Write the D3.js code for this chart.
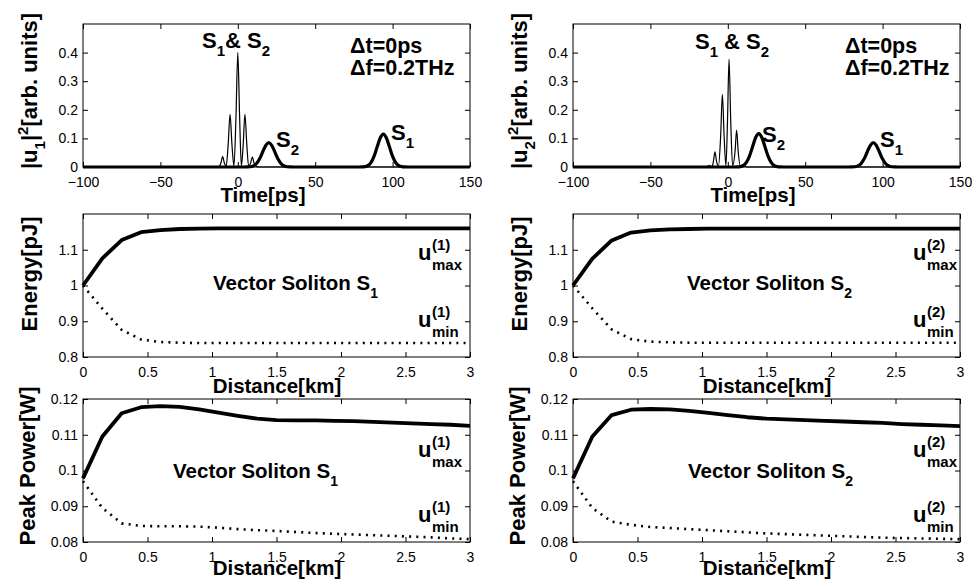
<!DOCTYPE html>
<html><head><meta charset="utf-8">
<script src="https://cdn.jsdelivr.net/npm/d3@7"></script>
<style>
body{margin:0;background:#fff}
svg{display:block}
text{font-family:"Liberation Sans",Arial,Helvetica,sans-serif;fill:#000}
</style>
</head><body>
<svg id="c" width="972" height="581"></svg>
<script>
// ---------- tick labels ----------
const timeTicks = [-100, -50, 0, 50, 100, 150];
const distTicks = [0, 0.5, 1, 1.5, 2, 2.5, 3];
const ampTicks = [0, 0.1, 0.2, 0.3, 0.4];
const energyTicks = [0.8, 0.9, 1, 1.1];
const powerTicks = [0.08, 0.09, 0.1, 0.11, 0.12];

// ---------- top row: input (thin) and output (thick) intensity profiles ----------
const tIn1 = [-100, -14, -12, -11, -9.8, -8.6, -7.5, -6.2, -5, -3.8, -2.5, -1.2, 0, 1.2, 2.3, 3.5, 4.6, 5.8, 7, 8.2, 9.4, 10.6, 12, 14, 150];
const uIn1 = [0, 0, 0.002, 0.012, 0.036, 0.012, 0.003, 0.08, 0.184, 0.08, 0.004, 0.17, 0.40, 0.17, 0.004, 0.08, 0.184, 0.08, 0.003, 0.012, 0.035, 0.012, 0.002, 0, 0];
const tIn2 = [-100, -15, -13, -12, -11, -10, -9.3, -8.3, -7.3, -6, -4.6, -3.5, -2.4, -1.2, -0.2, 0.8, 1.9, 3.1, 4.7, 5.7, 6.7, 8, 10, 12, 150];
const uIn2 = [0, 0, 0.002, 0.006, 0.002, 0.003, 0.02, 0.053, 0.02, 0.004, 0.11, 0.254, 0.11, 0.004, 0.16, 0.377, 0.16, 0.004, 0.055, 0.129, 0.055, 0.004, 0.008, 0, 0];
const tOut = [-100, 4, 6, 8, 10, 12, 14, 16, 18, 20, 22, 24, 26, 28, 30, 32, 34, 36,
              78, 80, 82, 84, 86, 88, 90, 92, 94, 96, 98, 100, 102, 104, 106, 108, 110, 150];
const uOut1 = [0, 0, 0.0002, 0.0009, 0.0037, 0.0115, 0.0276, 0.0516, 0.075, 0.085, 0.075, 0.0516, 0.0276, 0.0115, 0.0037, 0.0009, 0.0002, 0,
               0, 0.0003, 0.0013, 0.005, 0.0156, 0.0373, 0.0697, 0.1015, 0.115, 0.1015, 0.0697, 0.0373, 0.0156, 0.005, 0.0013, 0.0003, 0, 0];
const uOut2 = [0, 0, 0.0003, 0.0013, 0.005, 0.0158, 0.0379, 0.0709, 0.1033, 0.117, 0.1033, 0.0709, 0.0379, 0.0158, 0.005, 0.0013, 0.0003, 0,
               0, 0.0002, 0.0009, 0.0037, 0.0115, 0.0276, 0.0516, 0.075, 0.085, 0.075, 0.0516, 0.0276, 0.0115, 0.0037, 0.0009, 0.0002, 0, 0];

// ---------- energy and peak power vs distance ----------
const distance = [0, 0.15, 0.3, 0.45, 0.6, 0.75, 0.9, 1.05, 1.2, 1.35, 1.5, 1.65, 1.8, 1.95, 2.1, 2.25, 2.4, 2.55, 2.7, 2.85, 3.0];
const energyMax1 = [1.000, 1.076, 1.127, 1.149, 1.155, 1.158, 1.159, 1.160, 1.160, 1.160, 1.160, 1.160, 1.160, 1.160, 1.160, 1.160, 1.160, 1.160, 1.160, 1.160, 1.160];
const energyMin1 = [1.000, 0.935, 0.876, 0.849, 0.842, 0.840, 0.839, 0.839, 0.839, 0.839, 0.839, 0.839, 0.839, 0.839, 0.839, 0.839, 0.839, 0.839, 0.839, 0.839, 0.839];
const energyMax2 = [1.000, 1.075, 1.126, 1.148, 1.154, 1.157, 1.158, 1.159, 1.159, 1.159, 1.159, 1.159, 1.159, 1.159, 1.159, 1.159, 1.159, 1.159, 1.159, 1.159, 1.159];
const energyMin2 = [1.000, 0.936, 0.877, 0.850, 0.843, 0.841, 0.840, 0.840, 0.840, 0.840, 0.840, 0.840, 0.840, 0.840, 0.840, 0.840, 0.840, 0.840, 0.840, 0.840, 0.840];
const powerMax1 = [0.0978, 0.1095, 0.1160, 0.1177, 0.1180, 0.1178, 0.1171, 0.1162, 0.1153, 0.1145, 0.1141, 0.1140, 0.1140, 0.1139, 0.1138, 0.1136, 0.1134, 0.1132, 0.1130, 0.1128, 0.1125];
const powerMin1 = [0.0970, 0.0895, 0.0852, 0.0845, 0.0844, 0.0844, 0.0843, 0.0840, 0.0836, 0.0833, 0.0831, 0.0828, 0.0825, 0.0823, 0.0821, 0.0819, 0.0817, 0.0815, 0.0813, 0.0810, 0.0808];
const powerMax2 = [0.0978, 0.1095, 0.1155, 0.1170, 0.1172, 0.1171, 0.1167, 0.1161, 0.1155, 0.1149, 0.1145, 0.1143, 0.1141, 0.1139, 0.1137, 0.1135, 0.1133, 0.1130, 0.1128, 0.1126, 0.1124];
const powerMin2 = [0.0970, 0.0895, 0.0857, 0.0848, 0.0842, 0.0839, 0.0836, 0.0833, 0.0830, 0.0827, 0.0824, 0.0822, 0.0820, 0.0818, 0.0816, 0.0814, 0.0812, 0.0811, 0.0810, 0.0809, 0.0808];

// ---------- layout ----------
const svg = d3.select('#c');
const W = 387, H = 143;
const cols = [83, 573];
const rows = [24, 214, 399];
const FONT = '"Liberation Sans",Arial,Helvetica,sans-serif';

const fmtNum = d => (d < 0 ? '\u2212' + Math.abs(d) : String(d));

function rich(g, x, y, parts, size, anchor) {
  const t = g.append('text').attr('x', x).attr('y', y)
    .attr('font-weight', 'bold').attr('font-size', size)
    .attr('text-anchor', anchor || 'start');
  let cur = 0;
  parts.forEach(p => {
    const s = p[0], k = p[1] || 'n';
    const off = k === 'sub' ? size * 0.38 : (k === 'sup' ? -size * 0.42 : 0);
    const ts = t.append('tspan').attr('font-size', k === 'n' ? size : Math.round(size * 0.7)).text(s);
    if (off - cur !== 0) ts.attr('dy', off - cur);
    cur = off;
  });
  return t;
}

function uLabel(g, x, y, idx, which) {
  g.append('text').attr('x', x).attr('y', y).attr('font-weight', 'bold').attr('font-size', 22).text('u');
  g.append('text').attr('x', x + 14).attr('y', y - 10).attr('font-weight', 'bold').attr('font-size', 15).text('(' + idx + ')');
  g.append('text').attr('x', x + 14).attr('y', y + 10).attr('font-weight', 'bold').attr('font-size', 15).text(which);
}

function panel(cfg) {
  const g = svg.append('g').attr('transform', `translate(${cfg.left},${cfg.top})`);
  const x = d3.scaleLinear().domain(cfg.xDomain).range([0, W]);
  const y = d3.scaleLinear().domain(cfg.yDomain).range([H, 0]);

  cfg.series.forEach(s => {
    const line = d3.line().x((d, i) => x(s.x[i])).y(d => y(d)).curve(s.curve || d3.curveLinear);
    g.append('path').datum(s.y).attr('d', line)
      .attr('fill', 'none').attr('stroke', '#000')
      .attr('stroke-width', s.w)
      .attr('stroke-dasharray', s.dash || null)
      .attr('stroke-linejoin', 'round');
  });

  const bx = g.append('g').attr('transform', `translate(0,${H})`)
    .call(d3.axisBottom(x).tickValues(cfg.xTicks).tickFormat(fmtNum).tickSizeInner(-5).tickSizeOuter(0).tickPadding(10));
  const lx = g.append('g')
    .call(d3.axisLeft(y).tickValues(cfg.yTicks).tickFormat(fmtNum).tickSizeInner(-5).tickSizeOuter(0).tickPadding(5));
  g.append('g').call(d3.axisTop(x).tickValues(cfg.xTicks).tickFormat('').tickSizeInner(-5).tickSizeOuter(0));
  g.append('g').attr('transform', `translate(${W},0)`)
    .call(d3.axisRight(y).tickValues(cfg.yTicks).tickFormat('').tickSizeInner(-5).tickSizeOuter(0));
  g.selectAll('.domain').remove();
  g.selectAll('.tick line').attr('stroke', '#000');
  [bx, lx].forEach(a => a.attr('font-size', 14).attr('font-family', FONT).selectAll('text').attr('fill', '#000'));

  g.append('rect').attr('width', W).attr('height', H).attr('fill', 'none').attr('stroke', '#000').attr('stroke-width', 1);

  cfg.annot(g, x, y);
  return g;
}

function xLabel(text, cx, baseline) {
  svg.append('text').attr('x', cx).attr('y', baseline).attr('text-anchor', 'middle')
    .attr('font-weight', 'bold').attr('font-size', 20.5).text(text);
}
function yLabel(parts, bx, cy) {
  const g = svg.append('g').attr('transform', `translate(${bx},${cy}) rotate(-90)`);
  rich(g, 0, 0, parts, 22, 'middle');
}

const dotted = '2,5.2';

[0, 1].forEach(c => {
  const L = cols[c];
  const n = c + 1;
  // ---- top row ----
  panel({
    left: L, top: rows[0], xDomain: [-100, 150], yDomain: [0, 0.5],
    xTicks: timeTicks, yTicks: ampTicks,
    series: [
      { x: c === 0 ? tIn1 : tIn2, y: c === 0 ? uIn1 : uIn2, w: 1.2, curve: d3.curveMonotoneX },
      { x: tOut, y: c === 0 ? uOut1 : uOut2, w: 3.2, curve: d3.curveMonotoneX }
    ],
    annot: (g, x, y) => {
      const dx = c === 0 ? 72.5 : 75.7;
      rich(g, x(dx), y(0.40), [['\u0394t=0ps']], 21.5);
      rich(g, x(dx), y(0.322), [['\u0394f=0.2THz']], 21.5);
      if (c === 0) {
        rich(g, x(-23.1), y(0.416), [['S'], ['1', 'sub'], ['&', 'n'], ['\u00a0S', 'n'], ['2', 'sub']], 22);
        rich(g, x(24.7), y(0.07), [['S'], ['2', 'sub']], 22);
        rich(g, x(99), y(0.094), [['S'], ['1', 'sub']], 22);
      } else {
        rich(g, x(-21.2), y(0.413), [['S'], ['1', 'sub'], ['\u00a0&\u00a0S', 'n'], ['2', 'sub']], 22);
        rich(g, x(22.1), y(0.0874), [['S'], ['2', 'sub']], 22);
        rich(g, x(98.3), y(0.07), [['S'], ['1', 'sub']], 22);
      }
    }
  });
  xLabel('Time[ps]', L + 180, 202);
  yLabel([['|u'], [String(n), 'sub'], ['|', 'n'], ['2', 'sup'], ['[arb. units]', 'n']], L - 46, 91);

  // ---- middle row ----
  panel({
    left: L, top: rows[1], xDomain: [0, 3], yDomain: [0.8, 1.2],
    xTicks: distTicks, yTicks: energyTicks,
    series: [
      { x: distance, y: c === 0 ? energyMax1 : energyMax2, w: 3.8 },
      { x: distance, y: c === 0 ? energyMin1 : energyMin2, w: 2.6, dash: dotted }
    ],
    annot: (g, x, y) => {
      rich(g, x(c === 0 ? 1.008 : 0.884), y(0.987), [['Vector Soliton S'], [String(n), 'sub']], 20.5);
      const ux = c === 0 ? 2.597 : 2.636;
      uLabel(g, x(ux), y(1.071), n, 'max');
      uLabel(g, x(ux), y(0.884), n, 'min');
    }
  });
  xLabel('Distance[km]', L + 194, 393);
  yLabel([['Energy[pJ]']], L - 46, 274);

  // ---- bottom row ----
  panel({
    left: L, top: rows[2], xDomain: [0, 3], yDomain: [0.08, 0.12],
    xTicks: distTicks, yTicks: powerTicks,
    series: [
      { x: distance, y: c === 0 ? powerMax1 : powerMax2, w: 3.8 },
      { x: distance, y: c === 0 ? powerMin1 : powerMin2, w: 2.6, dash: dotted }
    ],
    annot: (g, x, y) => {
      rich(g, x(c === 0 ? 0.698 : 0.891), y(0.0979), [['Vector Soliton S'], [String(n), 'sub']], 20.5);
      const ux = c === 0 ? 2.597 : 2.636;
      uLabel(g, x(ux), y(0.1038), n, 'max');
      uLabel(g, x(ux), y(0.0856), n, 'min');
    }
  });
  xLabel('Distance[km]', L + 194, 575);
  yLabel([['Peak Power[W]']], L - 48, 466);
});
</script>
</body></html>
